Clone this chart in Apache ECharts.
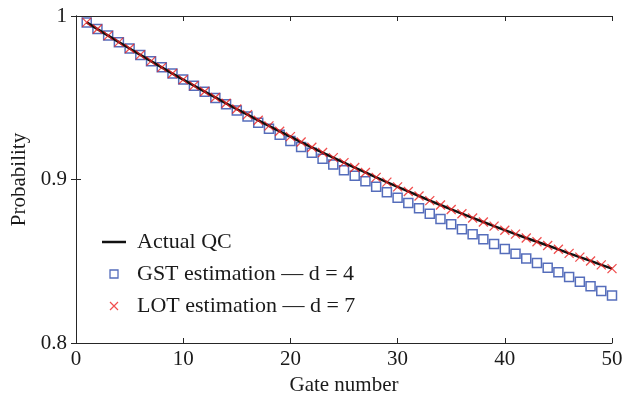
<!DOCTYPE html>
<html>
<head>
<meta charset="utf-8">
<script src="https://cdn.jsdelivr.net/npm/echarts@6/dist/echarts.min.js"></script>
<style>
  html, body { margin: 0; padding: 0; background: #fff; }
  #chart { width: 634px; height: 407px; }
</style>
</head>
<body>
<div id="chart"></div>
<script>
// gate index 1..50
const gates = [];
for (let g = 1; g <= 50; g++) gates.push(g);

// values
const actualQC = [
  0.9961, 0.9920, 0.9880, 0.9840, 0.9801, 0.9762, 0.9724, 0.9686, 0.9648, 0.9611,
  0.9574, 0.9538, 0.9502, 0.9466, 0.9431, 0.9397, 0.9362, 0.9328, 0.9295, 0.9262,
  0.9229, 0.9197, 0.9165, 0.9134, 0.9103, 0.9073, 0.9043, 0.9013, 0.8984, 0.8955,
  0.8927, 0.8899, 0.8871, 0.8844, 0.8817, 0.8791, 0.8765, 0.8740, 0.8715, 0.8690,
  0.8666, 0.8642, 0.8619, 0.8596, 0.8573, 0.8548, 0.8525, 0.8502, 0.8478, 0.8455
];
const gstEst = [
  0.9961, 0.9920, 0.9880, 0.9840, 0.9801, 0.9762, 0.9724, 0.9686, 0.9648, 0.9611,
  0.9573, 0.9536, 0.9498, 0.9460, 0.9422, 0.9385, 0.9347, 0.9310, 0.9273, 0.9236,
  0.9199, 0.9163, 0.9127, 0.9092, 0.9057, 0.9023, 0.8989, 0.8955, 0.8922, 0.8889,
  0.8856, 0.8824, 0.8791, 0.8759, 0.8727, 0.8696, 0.8665, 0.8635, 0.8605, 0.8575,
  0.8546, 0.8517, 0.8489, 0.8461, 0.8433, 0.8403, 0.8375, 0.8347, 0.8318, 0.8290
];
const lotEst = [
  0.9961, 0.9920, 0.9880, 0.9840, 0.9801, 0.9762, 0.9724, 0.9686, 0.9648, 0.9611,
  0.9574, 0.9538, 0.9502, 0.9466, 0.9431, 0.9397, 0.9362, 0.9328, 0.9295, 0.9262,
  0.9229, 0.9197, 0.9165, 0.9134, 0.9103, 0.9073, 0.9043, 0.9013, 0.8984, 0.8955,
  0.8927, 0.8899, 0.8871, 0.8844, 0.8817, 0.8791, 0.8765, 0.8740, 0.8715, 0.8690,
  0.8666, 0.8642, 0.8619, 0.8596, 0.8573, 0.8548, 0.8525, 0.8502, 0.8478, 0.8455
];
const seriesNames = ['Actual QC', 'GST estimation \u2014 d = 4', 'LOT estimation \u2014 d = 7'];

const FONT = '"Liberation Serif", "DejaVu Serif", serif';
const AXIS_COLOR = '#262626';
const BLUE = '#2a48aa';
const RED = '#ee2222';

const pairs = arr => arr.map((v, i) => [gates[i], v]);

const chart = echarts.init(document.getElementById('chart'), null, { renderer: 'canvas' });

const hiddenAxis = {
  axisLine: { show: true, lineStyle: { color: AXIS_COLOR, width: 1 } },
  axisTick: { show: true, inside: true, length: 5, lineStyle: { color: AXIS_COLOR } },
  axisLabel: { show: false },
  splitLine: { show: false }
};

chart.setOption({
  backgroundColor: '#fff',
  animation: false,
  textStyle: { fontFamily: FONT },
  grid: { left: 76, right: 22, top: 16, bottom: 64 },
  legend: {
    data: [
      { name: seriesNames[0], icon: 'path://M0,0L24,0L24,2.5L0,2.5Z',
        itemStyle: { color: '#111', borderWidth: 0 } },
      { name: seriesNames[1], icon: 'path://M0,0L10,0L10,10L0,10Z',
        itemStyle: { color: 'rgba(0,0,0,0)', borderColor: BLUE, borderWidth: 1.3 } },
      { name: seriesNames[2], icon: 'path://M0,0L10,10M0,10L10,0',
        itemStyle: { color: 'rgba(0,0,0,0)', borderColor: RED, borderWidth: 1.2 } }
    ],
    orient: 'vertical',
    left: 102,
    top: 231,
    padding: 0,
    itemWidth: 24,
    itemHeight: 8,
    itemGap: 10,
    symbolKeepAspect: true,
    selectedMode: false,
    textStyle: { fontFamily: FONT, fontSize: 22, color: '#1a1a1a', padding: [0, 0, 0, 6] }
  },
  xAxis: [
    {
      type: 'value', min: 0, max: 50, interval: 10, position: 'bottom',
      name: 'Gate number', nameLocation: 'middle', nameGap: 29,
      nameTextStyle: { fontFamily: FONT, fontSize: 21, color: '#1a1a1a' },
      axisLine: { show: true, onZero: false, lineStyle: { color: AXIS_COLOR, width: 1 } },
      axisTick: { show: true, inside: true, length: 5, lineStyle: { color: AXIS_COLOR } },
      axisLabel: { fontFamily: FONT, fontSize: 21, color: '#1a1a1a', margin: 6 },
      splitLine: { show: false }
    },
    Object.assign({ type: 'value', min: 0, max: 50, interval: 10, position: 'top' }, hiddenAxis)
  ],
  yAxis: [
    {
      type: 'value', min: 0.8, max: 1, interval: 0.1, position: 'left',
      name: 'Probability', nameLocation: 'middle', nameGap: 43,
      nameTextStyle: { fontFamily: FONT, fontSize: 21, color: '#1a1a1a' },
      axisLine: { show: true, onZero: false, lineStyle: { color: AXIS_COLOR, width: 1 } },
      axisTick: { show: true, inside: true, length: 5, lineStyle: { color: AXIS_COLOR } },
      axisLabel: {
        fontFamily: FONT, fontSize: 21, color: '#1a1a1a', margin: 9,
        formatter: v => (Math.abs(v - 1) < 1e-9 ? '1' : v.toFixed(1))
      },
      splitLine: { show: false }
    },
    Object.assign({ type: 'value', min: 0.8, max: 1, interval: 0.1, position: 'right' }, hiddenAxis)
  ],
  series: [
    {
      name: seriesNames[0],
      type: 'line',
      data: pairs(actualQC),
      showSymbol: false,
      symbol: 'none',
      lineStyle: { color: '#111', width: 2.5 },
      itemStyle: { color: '#111' },
      z: 3
    },
    {
      name: seriesNames[1],
      type: 'scatter',
      data: pairs(gstEst),
      symbol: 'path://M0,0L10,0L10,10L0,10Z',
      symbolSize: 9,
      symbolKeepAspect: true,
      itemStyle: { color: 'rgba(0,0,0,0)', borderColor: BLUE, borderWidth: 1.5 },
      z: 2
    },
    {
      name: seriesNames[2],
      type: 'scatter',
      data: pairs(lotEst),
      symbol: 'path://M0,0L10,10M0,10L10,0',
      symbolSize: 9,
      symbolKeepAspect: true,
      itemStyle: { color: 'rgba(0,0,0,0)', borderColor: RED, borderWidth: 1.3 },
      z: 4
    }
  ]
});
</script>
</body>
</html>
